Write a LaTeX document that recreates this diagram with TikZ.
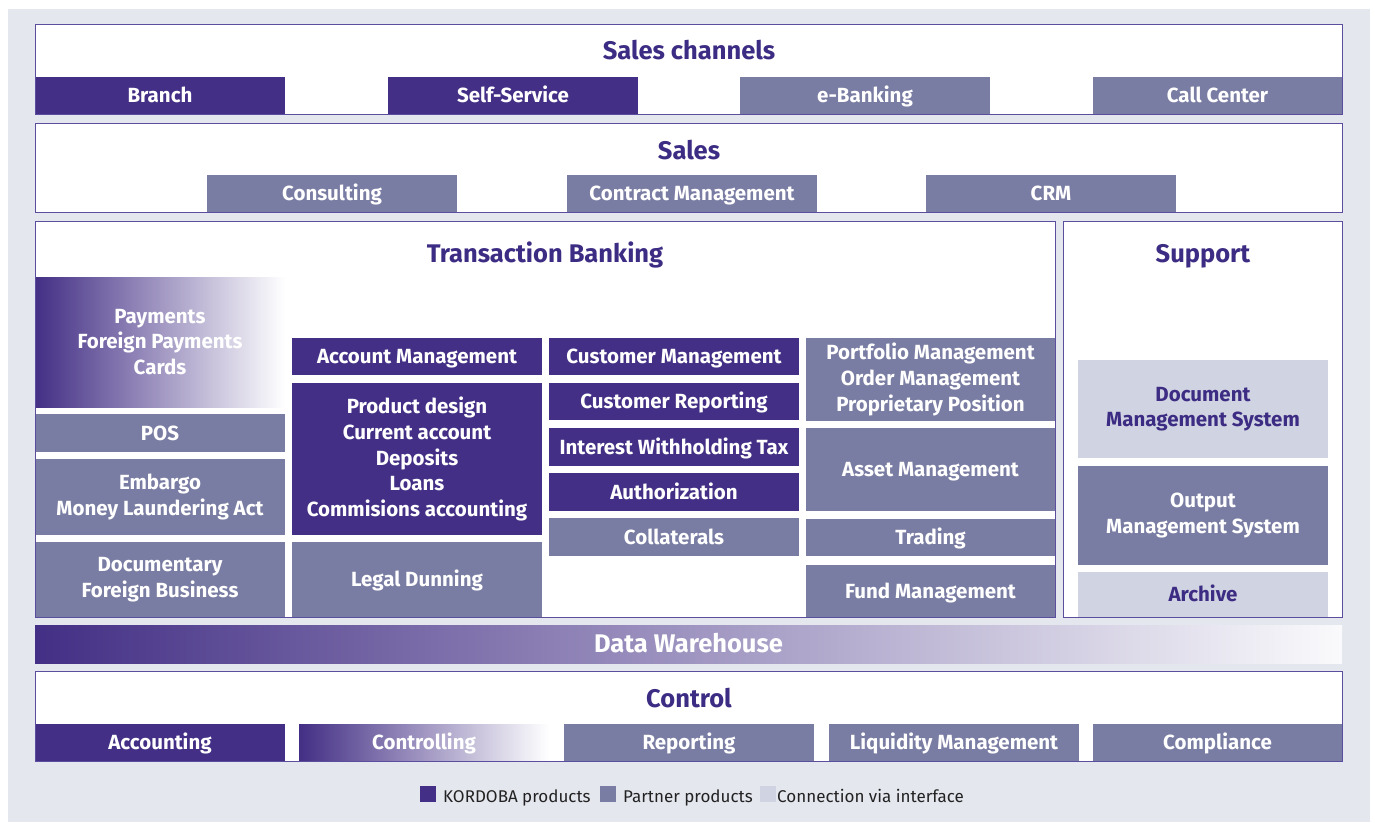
\documentclass[tikz,border=0pt]{standalone}
\usepackage{fontspec}
\setmainfont{Fira Sans}
\definecolor{kord}{HTML}{432F85}
\definecolor{partner}{HTML}{7A7DA3}
\definecolor{iface}{HTML}{D0D4E2}
\definecolor{titlec}{HTML}{3D2C83}
\definecolor{bgc}{HTML}{E5E7EF}
\definecolor{framec}{HTML}{5C4E9E}
\definecolor{legtext}{HTML}{222222}
\newcommand\bx[7]{\node[#1,minimum width={(#5-#3)*1pt},minimum height={(#6-#4)*1pt}] (#2) at ({(#3+#5)/2},{(#4+#6)/2}) {#7};}
\tikzset{
  base/.style={rectangle,inner sep=0pt,outer sep=0pt,align=center,font={\fontsize{20.5}{25.6}\selectfont\bfseries}},
  one/.style={text height=14pt,text depth=0pt},
  kbox/.style={base,fill=kord,text=white},
  pbox/.style={base,fill=partner,text=white},
  ibox/.style={base,fill=iface,text=titlec},
  gbox/.style={base,shading=axis,left color=kord,right color=white,shading angle=90,text=white},
  framebox/.style={rectangle,inner sep=0pt,outer sep=0pt,fill=white},
  frameline/.style={draw=framec,line width=0.9pt},
  title/.style={inner sep=0pt,text=titlec,text height=17.5pt,text depth=0pt,font={\fontsize{25.5}{30}\selectfont\bfseries}},
  legsq/.style={rectangle,inner sep=0pt,minimum size=16pt},
  legtxt/.style={inner sep=0pt,anchor=west,text=legtext,text height=12pt,text depth=4pt,font={\fontsize{17}{20}\selectfont}}
}
\begin{document}
\begin{tikzpicture}[x=1pt,y=-1pt]
\useasboundingbox (0,0) rectangle (1375,822);
\fill[white] (0,0) rectangle (1375,822);
\fill[bgc] (8,9) rectangle (1370,822);
% frames
\bx{framebox}{fsc}{35}{24}{1342}{114}{}
\bx{framebox}{fs}{35}{123}{1342}{212}{}
\bx{framebox}{ftb}{35}{221}{1055}{617}{}
\bx{framebox}{fsup}{1063}{221}{1342}{617}{}
\bx{framebox}{fctl}{35}{671}{1342}{761}{}
% titles
\node[title] (tsc) at (689,51) {Sales channels};
\node[title] (ts) at (689,150.5) {Sales};
\node[title] (ttb) at (545,253.5) {Transaction Banking};
\node[title] (tsup) at (1203,253.5) {Support};
\node[title] (tctl) at (689,699) {Control};
% sales channels
\bx{kbox,one}{branch}{35}{77}{285}{114}{Branch}
\bx{kbox,one}{self}{388}{77}{638}{114}{Self-Service}
\bx{pbox,one}{ebank}{740}{77}{990}{114}{e-Banking}
\bx{pbox,one}{call}{1093}{77}{1342}{114}{Call Center}
% sales
\bx{pbox,one}{consult}{207}{175}{457}{212}{Consulting}
\bx{pbox,one}{contract}{567}{175}{817}{212}{Contract Management}
\bx{pbox,one}{crm}{926}{175}{1176}{212}{CRM}
% transaction banking col 1
\bx{gbox}{pay}{35}{277}{285}{407}{Payments\\Foreign Payments\\Cards}
\bx{pbox,one}{pos}{35}{414}{285}{452}{POS}
\bx{pbox}{emb}{35}{459}{285}{535}{Embargo\\Money Laundering Act}
\bx{pbox}{doc}{35}{542}{285}{617}{Documentary\\Foreign Business}
% col 2
\bx{kbox,one}{accm}{292}{338}{542}{375}{Account Management}
\bx{kbox}{prod}{292}{383}{542}{535}{Product design\\Current account\\Deposits\\Loans\\Commisions accounting}
\bx{pbox,one}{legal}{292}{542}{542}{617}{Legal Dunning}
% col 3
\bx{kbox,one}{custm}{549}{338}{799}{375}{Customer Management}
\bx{kbox,one}{custr}{549}{383}{799}{420}{Customer Reporting}
\bx{kbox,one}{iwt}{549}{428}{799}{466}{Interest Withholding Tax}
\bx{kbox,one}{auth}{549}{473}{799}{511}{Authorization}
\bx{pbox,one}{coll}{549}{518}{799}{556}{Collaterals}
% col 4
\bx{pbox}{port}{806}{338}{1055}{421}{Portfolio Management\\Order Management\\Proprietary Position}
\bx{pbox,one}{asset}{806}{428}{1055}{511}{Asset Management}
\bx{pbox,one}{trad}{806}{519}{1055}{556}{Trading}
\bx{pbox,one}{fund}{806}{565}{1055}{617}{Fund Management}
% support
\bx{ibox}{dms}{1078}{360}{1328}{458}{Document\\Management System}
\bx{pbox}{oms}{1078}{466}{1328}{565}{Output\\Management System}
\bx{ibox,one}{arch}{1078}{572}{1328}{617}{Archive}
% data warehouse
\node[base,shading=axis,left color=kord,right color={rgb,255:red,250;green,250;blue,252},shading angle=90,text=white,minimum width=1307pt,minimum height=38pt,text height=17.5pt,text depth=0pt,font={\fontsize{25.5}{30}\selectfont\bfseries}] (dw) at (688.5,644) {Data Warehouse};
% control
\bx{kbox,one}{acc}{35}{724}{285}{761}{Accounting}
\bx{gbox,one}{ctrl}{299}{724}{549}{761}{Controlling}
\bx{pbox,one}{rep}{564}{724}{814}{761}{Reporting}
\bx{pbox,one}{liq}{829}{724}{1079}{761}{Liquidity Management}
\bx{pbox,one}{comp}{1093}{724}{1342}{761}{Compliance}
% frame lines
\foreach \f in {fsc,fs,ftb,fsup,fctl}{\draw[frameline] (\f.south west) rectangle (\f.north east);}
% legend
\node[legsq,fill=kord] (lk) at (428,794) {};
\node[legtxt] (lkt) at (443,798) {KORDOBA products};
\node[legsq,fill=partner] (lp) at (608,794) {};
\node[legtxt] (lpt) at (623,798) {Partner products};
\node[legsq,fill=iface] (li) at (768,794) {};
\node[legtxt] (lit) at (777,798) {Connection via interface};
\end{tikzpicture}
\end{document}
